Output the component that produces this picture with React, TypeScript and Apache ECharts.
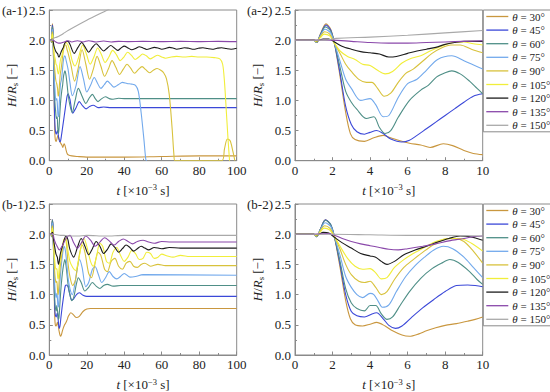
import React, { useEffect, useRef } from 'react';
import * as echarts from 'echarts';

type P = [number, number][];

const FONT = "'Liberation Serif', 'Times New Roman', serif";
const thetaNames = ['30°', '45°', '60°', '75°', '90°', '105°', '120°', '135°', '150°'];
const colors = ['#c9973f', '#3b48d8', '#4f8f87', '#72a9ec', '#d8c23c', '#f1ee3a', '#1c1c1c', '#8a48aa', '#a9a9a9'];
const xTicksLong = [0, 20, 40, 60, 80, 100];
const xTicksShort = [0, 2, 4, 6, 8, 10];
const yTicks = [0, 0.5, 1.0, 1.5, 2.0, 2.5];

// ---------- case (a), t = 0..10 (panel a-2) ----------
const a30: P = [[0,2],[1,2],[1.15,1.96],[1.35,2.1],[1.65,2.27],[1.9,2.18],[2.1,1.95],[2.4,1.4],[2.7,0.8],[2.95,0.45],[3.2,0.35],[3.7,0.32],[4.2,0.38],[4.7,0.42],[5.1,0.38],[5.6,0.33],[6.1,0.29],[6.7,0.26],[7.2,0.22],[7.9,0.28],[8.4,0.25],[9.0,0.17],[9.5,0.12],[10,0.1]];
const a45: P = [[0,2],[1,2],[1.15,1.96],[1.35,2.09],[1.65,2.25],[1.9,2.17],[2.1,1.95],[2.4,1.45],[2.7,0.9],[3.0,0.6],[3.3,0.48],[3.7,0.44],[4.0,0.47],[4.35,0.5],[4.7,0.45],[5.1,0.36],[5.7,0.31],[6.1,0.34],[6.5,0.42],[7.0,0.53],[7.5,0.64],[8.0,0.75],[8.5,0.86],[9.0,0.97],[9.5,1.07],[10,1.11]];
const a60: P = [[0,2],[1,2],[1.15,1.96],[1.35,2.08],[1.62,2.22],[1.9,2.15],[2.1,1.95],[2.4,1.55],[2.7,1.15],[3.0,0.97],[3.3,0.85],[3.8,0.7],[4.2,0.73],[4.5,0.55],[4.8,0.45],[5.1,0.5],[5.5,0.72],[6.1,1.0],[6.7,1.17],[7.1,1.25],[7.55,1.39],[8.0,1.46],[8.35,1.49],[8.8,1.44],[9.3,1.32],[9.7,1.2],[10,1.11]];
const a75: P = [[0,2],[1,2],[1.15,1.97],[1.35,2.07],[1.6,2.18],[1.9,2.12],[2.1,1.95],[2.4,1.65],[2.7,1.35],[3.0,1.2],[3.5,1.0],[4.0,1.03],[4.3,0.93],[4.7,0.73],[5.0,0.75],[5.5,1.05],[6.0,1.28],[6.5,1.35],[7.0,1.5],[7.6,1.68],[8.35,1.74],[9.0,1.66],[10,1.52]];
const a90: P = [[0,2],[1,2],[1.15,1.97],[1.35,2.06],[1.58,2.14],[1.85,2.1],[2.1,1.95],[2.4,1.78],[2.7,1.6],[3.0,1.48],[3.4,1.35],[3.8,1.3],[4.1,1.3],[4.4,1.2],[4.75,1.07],[5.1,1.12],[5.5,1.3],[5.9,1.45],[6.3,1.52],[6.8,1.65],[7.3,1.78],[7.8,1.87],[8.3,1.92],[8.8,1.92],[9.4,1.85],[10,1.79]];
const a105: P = [[0,2],[1,2],[1.15,1.98],[1.35,2.04],[1.55,2.1],[1.85,2.07],[2.1,1.95],[2.4,1.82],[2.8,1.73],[3.2,1.68],[3.6,1.6],[4.0,1.58],[4.4,1.5],[4.8,1.44],[5.2,1.48],[5.7,1.62],[6.2,1.7],[6.7,1.74],[7.2,1.82],[7.8,1.9],[8.4,1.96],[9.0,1.97],[9.5,1.94],[10,1.92]];
const a120: P = [[0,2],[1,2],[1.2,1.99],[1.5,2.02],[1.8,2.02],[2.1,1.97],[2.5,1.9],[3.0,1.85],[3.5,1.81],[4.0,1.79],[4.5,1.77],[5.0,1.72],[5.4,1.73],[6.0,1.78],[6.5,1.82],[7.0,1.85],[7.5,1.88],[8.0,1.93],[8.5,1.96],[9.0,1.98],[10,1.98]];
const a135: P = [[0,2],[1,2],[2,2.0],[3,1.98],[4,1.96],[5,1.95],[6,1.95],[7,1.96],[8,1.97],[9,1.98],[10,1.99]];
const a150: P = [[0,2],[1,2],[1.6,2.0],[2.2,2.03],[4,2.05],[6,2.08],[8,2.12],[10,2.16]];

// ---------- case (a), t > 10 (panel a-1 only) ----------
const a30Late: P = [[12,0.08],[15,0.07],[20,0.06],[40,0.06],[60,0.07],[80,0.08],[100,0.08]];
const a45Late: P = [[11,1.02],[12.5,0.79],[14.3,0.88],[16,0.98],[17.8,0.91],[19.6,0.86],[21.5,0.9],[23.5,0.92],[26,0.88],[29,0.89],[33,0.88],[100,0.88]];
const a60Late: P = [[11,0.92],[12.2,0.8],[13.8,1.0],[15.5,1.2],[17.5,1.07],[19.5,0.95],[21.3,1.04],[23,1.1],[24.5,1.03],[26,0.98],[28,1.03],[30,1.06],[32,1.03],[34,1.02],[37,1.035],[40,1.03],[100,1.03]];
const a75Late: P = [[11,1.3],[12.3,1.08],[14.3,1.25],[16.4,1.56],[18.3,1.35],[20,1.14],[22,1.25],[24,1.38],[25.8,1.28],[27.5,1.2],[29.3,1.26],[31,1.32],[32.8,1.27],[34.5,1.22],[36.8,1.26],[39,1.3],[41.5,1.28],[44,1.27],[46,1.25],[47.5,1.15],[49,0.8],[50.5,0.35],[51.5,0.02],[52,0]];
const a90Late: P = [[11.5,1.6],[13.5,1.32],[15.5,1.55],[17.5,1.84],[19.5,1.6],[21.5,1.35],[23.5,1.52],[25.5,1.73],[27.5,1.57],[29.5,1.4],[31.5,1.52],[33.5,1.66],[35.5,1.55],[37.5,1.43],[39.5,1.52],[41.5,1.6],[43.5,1.53],[45.5,1.45],[47.5,1.51],[49.5,1.56],[51.5,1.51],[53.5,1.46],[55.5,1.5],[57.5,1.53],[59.5,1.5],[61,1.46],[62.5,1.36],[64,1.1],[65.5,0.55],[66.5,0.1],[67,0],[92,0],[93.5,0.2],[95,0.36],[96.5,0.33],[98,0.15],[99,0]];
const a105Late: P = [[11,1.82],[12.3,1.65],[13.7,1.57],[15.5,1.7],[17.8,1.92],[19.8,1.77],[21.8,1.6],[23.8,1.72],[25.8,1.87],[27.8,1.76],[29.8,1.63],[31.8,1.72],[33.8,1.83],[35.8,1.76],[37.8,1.66],[39.8,1.72],[41.8,1.8],[43.8,1.75],[45.8,1.68],[47.8,1.72],[49.8,1.77],[51.8,1.74],[53.8,1.69],[55.8,1.72],[57.8,1.75],[60,1.72],[62,1.7],[65,1.72],[68,1.73],[72,1.72],[76,1.73],[80,1.72],[84,1.72],[88,1.71],[91,1.69],[92.5,1.6],[93.5,1.3],[94.5,0.8],[95.5,0.3],[96.2,0]];
const a120Late: P = [[11,1.93],[13.3,1.78],[15.3,1.88],[17.3,1.96],[19.2,1.88],[21,1.8],[23,1.88],[25,1.94],[27,1.88],[29,1.82],[31,1.87],[32.8,1.91],[34.7,1.87],[36.5,1.83],[38.3,1.87],[40,1.9],[42,1.87],[44,1.84],[46,1.86],[48,1.89],[50,1.87],[52,1.845],[54,1.86],[56,1.88],[58,1.87],[60,1.85],[62,1.86],[64,1.88],[66,1.87],[68,1.85],[70,1.86],[72,1.875],[74.5,1.865],[77,1.85],[79.5,1.865],[82,1.875],[84.5,1.86],[87,1.85],[89.5,1.865],[92,1.875],[94.5,1.86],[97,1.85],[100,1.865]];
const a135Late: P = [[12,1.97],[15,1.99],[18,1.97],[21,1.99],[25,1.97],[29,1.985],[33,1.97],[37,1.98],[42,1.975],[50,1.98],[60,1.975],[70,1.98],[80,1.975],[90,1.98],[100,1.975]];
const a150Late: P = [[20,2.33],[31,2.5],[50,2.8],[100,3.62]];

// ---------- case (b), t = 0..10 (panel b-2) ----------
const b30: P = [[0,2],[1,2],[1.15,1.96],[1.35,2.08],[1.62,2.24],[1.9,2.15],[2.1,1.95],[2.4,1.45],[2.7,0.9],[2.95,0.6],[3.2,0.5],[3.6,0.48],[4.0,0.51],[4.35,0.54],[4.8,0.48],[5.2,0.4],[5.7,0.33],[6.1,0.31],[6.6,0.35],[7.0,0.4],[7.5,0.45],[8.0,0.49],[8.6,0.52],[9.2,0.56],[9.6,0.59],[10,0.63]];
const b45: P = [[0,2],[1,2],[1.15,1.96],[1.35,2.08],[1.62,2.24],[1.9,2.16],[2.1,1.96],[2.4,1.5],[2.7,1.0],[3.0,0.72],[3.3,0.65],[3.7,0.63],[4.1,0.68],[4.35,0.7],[4.7,0.6],[5.0,0.49],[5.35,0.44],[5.7,0.48],[6.2,0.62],[6.8,0.78],[7.4,0.92],[8.0,1.05],[8.6,1.15],[9.2,1.16],[9.6,1.15],[10,1.13]];
const b60: P = [[0,2],[1,2],[1.15,1.96],[1.35,2.08],[1.62,2.23],[1.9,2.16],[2.1,1.96],[2.4,1.55],[2.7,1.1],[3.0,0.86],[3.3,0.77],[3.7,0.73],[4.0,0.82],[4.3,0.82],[4.6,0.68],[4.9,0.59],[5.2,0.63],[5.6,0.82],[6.1,1.05],[6.7,1.27],[7.3,1.43],[7.8,1.52],[8.25,1.58],[8.7,1.53],[9.3,1.38],[9.7,1.25],[10,1.17]];
const b75: P = [[0,2],[1,2],[1.15,1.97],[1.35,2.07],[1.6,2.19],[1.9,2.13],[2.1,1.96],[2.4,1.65],[2.7,1.3],[3.0,1.12],[3.3,1.0],[3.6,0.95],[4.0,1.02],[4.2,1.0],[4.45,0.88],[4.65,0.79],[5.0,0.83],[5.4,1.05],[5.9,1.3],[6.4,1.48],[6.9,1.62],[7.4,1.74],[7.9,1.8],[8.4,1.76],[9.0,1.62],[9.5,1.45],[10,1.28]];
const b90: P = [[0,2],[1,2],[1.15,1.97],[1.35,2.06],[1.58,2.14],[1.85,2.1],[2.1,1.96],[2.4,1.75],[2.7,1.5],[3.0,1.33],[3.4,1.22],[3.7,1.2],[4.0,1.22],[4.3,1.12],[4.6,1.0],[4.9,1.05],[5.3,1.25],[5.8,1.45],[6.3,1.58],[6.8,1.7],[7.4,1.83],[8.0,1.92],[8.5,1.93],[9.0,1.88],[9.5,1.72],[10,1.52]];
const b105: P = [[0,2],[1,2],[1.15,1.98],[1.35,2.04],[1.55,2.1],[1.85,2.07],[2.1,1.96],[2.4,1.8],[2.8,1.6],[3.2,1.47],[3.6,1.42],[4.0,1.43],[4.3,1.36],[4.6,1.26],[4.9,1.28],[5.3,1.45],[5.8,1.58],[6.3,1.68],[7.0,1.8],[7.5,1.88],[8.2,1.93],[8.8,1.93],[9.4,1.85],[10,1.72]];
const b120: P = [[0,2],[1,2],[1.2,1.99],[1.5,2.03],[1.8,2.02],[2.1,1.95],[2.5,1.86],[3.0,1.77],[3.5,1.68],[4.0,1.64],[4.3,1.62],[4.6,1.55],[4.9,1.5],[5.3,1.55],[5.8,1.66],[6.4,1.74],[7.0,1.8],[7.6,1.87],[8.2,1.93],[8.8,1.97],[9.3,1.96],[9.7,1.93],[10,1.9]];
const b135: P = [[0,2],[1,2],[1.8,2.01],[2.2,1.97],[2.6,1.92],[3.0,1.88],[3.5,1.84],[4.0,1.81],[4.5,1.78],[5.0,1.75],[5.5,1.74],[6.0,1.76],[6.8,1.8],[7.5,1.84],[8.2,1.89],[9.0,1.93],[9.5,1.96],[10,1.97]];
const b150: P = [[0,2],[1,2],[2,2.0],[4,1.99],[6,1.98],[8,1.98],[10,1.97]];

// ---------- case (b), t > 10 (panel b-1 only) ----------
const b30Late: P = [[10.5,0.66],[11.5,0.7],[13,0.66],[14.5,0.62],[16,0.64],[18,0.72],[20,0.76],[22,0.77],[100,0.77]];
const b45Late: P = [[11,1.0],[12,0.91],[13,0.93],[14.5,1.0],[16,1.03],[18,0.99],[20,0.97],[100,0.97]];
const b60Late: P = [[11,1.0],[12,0.9],[13,0.95],[14.5,1.18],[15.5,1.28],[17,1.2],[19,1.06],[21,1.12],[23,1.2],[25,1.14],[27,1.1],[29,1.15],[31,1.17],[34,1.14],[38,1.15],[100,1.15]];
const b75Late: P = [[11,1.1],[12.3,1.0],[13.5,1.15],[15,1.45],[16.2,1.58],[17.5,1.45],[19.5,1.13],[21,1.2],[23,1.42],[24.5,1.46],[26,1.35],[28,1.2],[30,1.28],[32,1.38],[34,1.3],[36,1.26],[38,1.3],[40,1.35],[43,1.29],[46,1.3],[50,1.33],[100,1.32]];
const b90Late: P = [[11,1.3],[12.5,1.15],[14,1.25],[16,1.65],[17.5,1.82],[19,1.7],[21,1.35],[22.5,1.28],[24,1.45],[26,1.7],[27.5,1.65],[29.5,1.42],[31,1.38],[33,1.55],[35,1.6],[37,1.47],[39,1.42],[41,1.52],[43,1.55],[45,1.47],[47,1.45],[49,1.5],[51,1.52],[54,1.47],[58,1.5],[62,1.48],[100,1.48]];
const b105Late: P = [[11,1.55],[12.5,1.45],[14,1.4],[15.5,1.55],[17,1.8],[18.5,1.93],[20,1.8],[22,1.55],[23.5,1.47],[25,1.6],[27,1.85],[28.5,1.8],[30.5,1.55],[32,1.52],[34,1.7],[36,1.78],[38,1.65],[40,1.55],[42,1.62],[44,1.73],[46,1.68],[48,1.58],[50,1.6],[52,1.7],[54,1.68],[56,1.6],[58,1.62],[60,1.67],[63,1.64],[66,1.62],[70,1.65],[75,1.63],[100,1.63]];
const b120Late: P = [[11,1.75],[13,1.62],[15,1.78],[17,1.93],[19,1.8],[21,1.66],[23,1.76],[25,1.88],[27,1.8],[29,1.68],[31,1.75],[33,1.84],[35,1.78],[37,1.7],[39,1.76],[41,1.82],[43,1.78],[45,1.72],[47,1.76],[49,1.8],[51,1.77],[53,1.74],[56,1.78],[60,1.76],[64,1.78],[70,1.77],[100,1.77]];
const b135Late: P = [[11,1.98],[13,1.86],[15,1.77],[17,1.85],[19.5,1.97],[22,1.9],[24.5,1.8],[27,1.87],[29.5,1.94],[32,1.89],[34.5,1.82],[37,1.88],[39.5,1.92],[42,1.88],[44.5,1.84],[47,1.88],[50,1.9],[53,1.87],[56,1.85],[60,1.88],[65,1.87],[100,1.87]];
const b150Late: P = [[15,1.97],[20,1.98],[30,1.97],[40,1.98],[60,1.98],[100,1.98]];

const aEarly = [a30, a45, a60, a75, a90, a105, a120, a135, a150];
const aLate = [a30Late, a45Late, a60Late, a75Late, a90Late, a105Late, a120Late, a135Late, a150Late];
const bEarly = [b30, b45, b60, b75, b90, b105, b120, b135, b150];
const bLate = [b30Late, b45Late, b60Late, b75Late, b90Late, b105Late, b120Late, b135Late, b150Late];

const panelTitles = ['(a-1)', '(a-2)', '(b-1)', '(b-2)'];

export default function App() {
  const ref = useRef<HTMLDivElement>(null);
  useEffect(() => {
    if (!ref.current) return;
    const chart = echarts.init(ref.current, undefined, { renderer: 'svg' });
    const grids = [
      { left: 49.3, top: 10, width: 187.4, height: 150.7 },
      { left: 295, top: 10, width: 187.7, height: 150.7 },
      { left: 49.3, top: 204, width: 187.4, height: 152 },
      { left: 295, top: 204, width: 187.7, height: 152 },
    ];
    const axisCommon = {
      axisLine: { show: true, lineStyle: { color: '#8a8a8a', width: 1 } },
      axisTick: { show: true, inside: true, length: 3.5, lineStyle: { color: '#8a8a8a' } },
      minorTick: { show: true, splitNumber: 2, length: 2, lineStyle: { color: '#8a8a8a' } },
      splitLine: { show: false },
    };
    const labelStyle = { color: '#222', fontFamily: FONT, fontSize: 13 };
    const xAxes = grids.map((_, i) => {
      const long = i % 2 === 0;
      const ticks = long ? xTicksLong : xTicksShort;
      return {
        type: 'value', gridIndex: i, min: ticks[0], max: ticks[ticks.length - 1], interval: ticks[1] - ticks[0],
        ...axisCommon,
        axisLabel: { ...labelStyle, margin: 3 },
        name: '{i|t} [×10{sup|−3} s]', nameLocation: 'middle', nameGap: 22,
        nameTextStyle: {
          color: '#222', fontFamily: FONT, fontSize: 13,
          rich: {
            i: { fontStyle: 'italic', fontFamily: FONT, fontSize: 13, color: '#222' },
            sup: { fontFamily: FONT, fontSize: 8.5, color: '#222', verticalAlign: 'top', padding: [0, 0, 6, 0] },
          },
        },
      };
    });
    const yAxes = grids.map((_, i) => ({
      type: 'value', gridIndex: i, min: yTicks[0], max: yTicks[yTicks.length - 1], interval: yTicks[1] - yTicks[0],
      ...axisCommon,
      axisLabel: { ...labelStyle, margin: 4, formatter: (v: number) => v.toFixed(1) },
      name: '{i|H}/{i|R}{sub|s} [−]', nameLocation: 'middle', nameGap: 30,
      nameTextStyle: {
        color: '#222', fontFamily: FONT, fontSize: 13,
        rich: {
          i: { fontStyle: 'italic', fontFamily: FONT, fontSize: 13, color: '#222' },
          sub: { fontFamily: FONT, fontSize: 8.5, color: '#222', padding: [6, 0, 0, 0] },
        },
      },
    }));
    const series: any[] = [];
    for (let g = 0; g < 4; g++) {
      for (let k = 0; k < 9; k++) {
        let data: P;
        if (g === 0) data = [...aEarly[k], ...aLate[k]];
        else if (g === 1) data = aEarly[k];
        else if (g === 2) data = [...bEarly[k], ...bLate[k]];
        else data = bEarly[k];
        series.push({
          type: 'line', name: thetaNames[k], xAxisIndex: g, yAxisIndex: g,
          data, showSymbol: false, symbol: 'none', smooth: 0.3, clip: true,
          lineStyle: { color: colors[k], width: 1.1 }, itemStyle: { color: colors[k] },
        });
      }
    }
    const legendCommon = {
      orient: 'vertical', left: 483.3, icon: 'rect', itemWidth: 22, itemHeight: 1.3, itemGap: 1.6,
      borderColor: '#8a8a8a', borderWidth: 1, padding: [0.5, 2, 0.5, 3], backgroundColor: '#fff',
      data: thetaNames, selectedMode: false,
      formatter: (n: string) => `{i|θ} = ${n}`,
      textStyle: {
        color: '#222', fontFamily: FONT, fontSize: 11, lineHeight: 12, padding: [0, 0, 0, -1],
        rich: { i: { fontStyle: 'italic', fontFamily: FONT, fontSize: 11, lineHeight: 12, color: '#222' } },
      },
    };
    chart.setOption({
      animation: false,
      backgroundColor: '#fff',
      grid: grids.map((g) => ({ ...g, show: true, borderColor: '#8a8a8a', borderWidth: 1, backgroundColor: 'transparent' })),
      xAxis: xAxes,
      yAxis: yAxes,
      legend: [
        { ...legendCommon, top: 10 },
        { ...legendCommon, top: 204 },
      ],
      graphic: panelTitles.map((t, i) => ({
        type: 'text', left: i % 2 === 0 ? 2 : 247, top: i < 2 ? 3.5 : 197.5,
        style: { text: t, fontFamily: FONT, fontSize: 13, fill: '#222' },
      })),
      series,
    });
    return () => chart.dispose();
  }, []);
  return (
    <div style={{ position: 'fixed', left: 0, top: 0, width: 550, height: 392, background: '#fff' }}>
      <div ref={ref} style={{ width: 550, height: 392 }} />
    </div>
  );
}
